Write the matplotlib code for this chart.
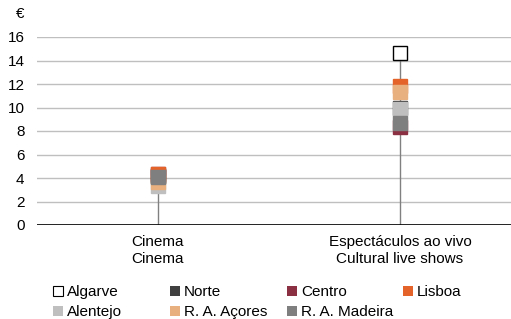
import matplotlib.pyplot as plt
from matplotlib.lines import Line2D

plt.rcParams['font.family'] = ['Liberation Sans', 'DejaVu Sans']

# categorie
categorie = ['Cinema\nCinema', 'Espectáculos ao vivo\nCultural live shows']
# regioni e valori (euro)
regioni = ['Algarve', 'Norte', 'Centro', 'Lisboa', 'Alentejo', 'R. A. Açores', 'R. A. Madeira']
cinema = [4.2, 4.2, 4.3, 4.38, 3.36, 3.65, 4.1]
spettacoli = [14.6, 10.0, 8.3, 11.85, 9.87, 11.28, 8.72]
colori = ['white', '#404040', '#8B3042', '#E4632B', '#BFBFBF', '#E8B07E', '#7F7F7F']

fig = plt.figure(figsize=(5.11, 3.19), dpi=100)
ax = fig.add_axes([37/511, 1-225/319, 484/511, (225-37)/319])

x = [0, 1]
ax.vlines(x, 0, [max(cinema), max(spettacoli)], color='#808080', lw=1, zorder=2)

for i, r in enumerate(regioni):
    ec = 'black' if r == 'Algarve' else colori[i]
    ax.plot(x, [cinema[i], spettacoli[i]], 's', ms=10, mfc=colori[i], mec=ec,
            mew=1, zorder=3 + i)

ax.set_xlim(-0.5, 1.5)
ax.set_ylim(0, 16)
ax.set_yticks(range(0, 17, 2))
ax.set_xticks(x)
ax.set_xticklabels(categorie, linespacing=1.3)
ax.tick_params(length=0, labelsize=11)
ax.tick_params(axis='x', pad=7)
ax.tick_params(axis='y', pad=9)
ax.grid(axis='y', color='#BFBFBF', lw=1)
ax.set_axisbelow(True)
ax.axhline(0, color='black', lw=1.2, zorder=2)
for s in ax.spines.values():
    s.set_visible(False)

fig.text(20/511, 1-14/319, '€', fontsize=11, ha='center', va='center')

# legenda: quattro colonne
colonne = [[0, 4], [1, 5], [2, 6], [3]]
xs = [53, 170, 287, 403]
for c, xc in zip(colonne, xs):
    h = []
    for i in c:
        ec = 'black' if regioni[i] == 'Algarve' else colori[i]
        h.append(Line2D([], [], ls='', marker='s', ms=6.5, mfc=colori[i], mec=ec,
                        mew=0.8 if regioni[i] == 'Algarve' else 0, label=regioni[i]))
    fig.legend(handles=h, loc='upper left', bbox_to_anchor=(xc/511, 1-285/319),
               frameon=False, fontsize=11, handlelength=0.6, handletextpad=0.3,
               labelspacing=0.42, borderpad=0, borderaxespad=0)

fig.savefig('out.png', dpi=100)
